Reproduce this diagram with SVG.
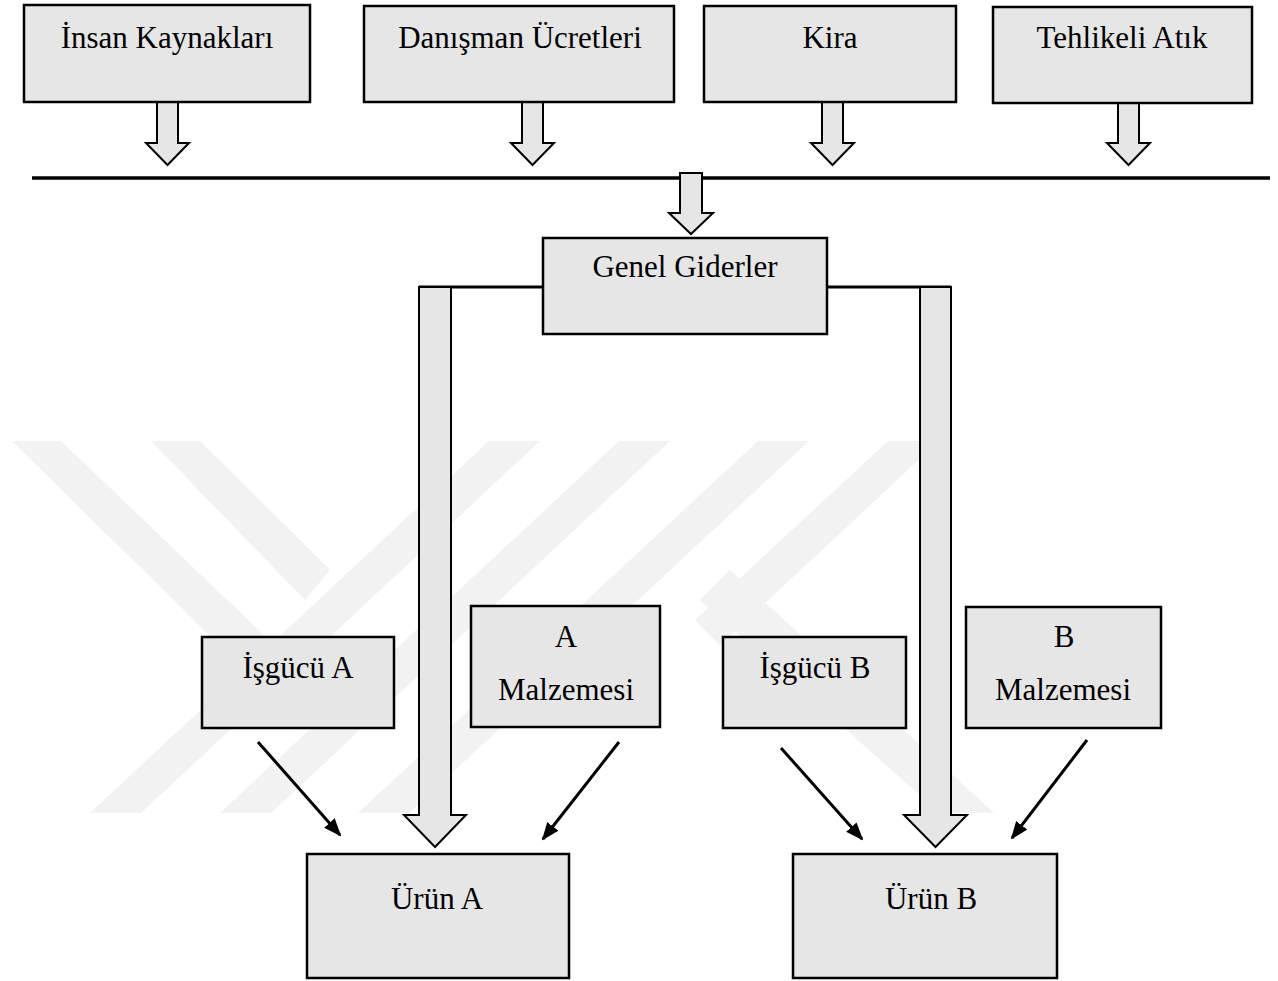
<svg xmlns="http://www.w3.org/2000/svg" width="1278" height="981" viewBox="0 0 1278 981">
<style>
.box{fill:#e6e6e6;stroke:#000;stroke-width:2.5}
.blk{fill:#e6e6e6;stroke:#000;stroke-width:2;stroke-linejoin:miter}
.lbl{font-family:"Liberation Serif","Times New Roman",serif;font-size:31px;fill:#000;text-anchor:middle}
.ln{stroke:#000;stroke-width:3.5;fill:none}
.arr{stroke:#000;stroke-width:3;fill:none;marker-end:url(#ah)}
.wm{fill:#f2f2f2}
</style>
<defs>
<marker id="ah" markerUnits="userSpaceOnUse" markerWidth="18" markerHeight="14" refX="16" refY="7" orient="auto">
<path d="M0,0 L18,7 L0,14 Z" fill="#000"/>
</marker>
</defs>
<rect width="1278" height="981" fill="#fff"/>
<g id="watermark">
<polygon class="wm" points="12,441 61,441 290,660 265,690"/>
<polygon class="wm" points="151,441 200,441 330,570 305,600"/>
<polygon class="wm" points="489,441 540,441 141,813 90,813"/>
<polygon class="wm" points="619,441 670,441 271,813 220,813"/>
<polygon class="wm" points="758,441 809,441 409,813 358,813"/>
<polygon class="wm" points="888,441 939,441 720,645 695,620"/>
<polygon class="wm" points="700,600 730,570 994,813 940,813"/>
</g>
<g id="connectors">
<line class="ln" x1="32" y1="178" x2="1270" y2="178"/>
<polygon class="blk" points="157,102 178,102 178,143 189,143 167.5,165 146,143 157,143"/>
<polygon class="blk" points="522,102 543,102 543,143 554,143 532.5,165 511,143 522,143"/>
<polygon class="blk" points="822,102 843,102 843,143 854,143 832.5,165 811,143 822,143"/>
<polygon class="blk" points="1118,102 1139,102 1139,143 1150,143 1128.5,165 1107,143 1118,143"/>
<polygon class="blk" points="680,173 702,173 702,213 713,213 691,234 669,213 680,213"/>
<line class="ln" x1="419" y1="287" x2="543" y2="287" style="stroke-width:3"/>
<line class="ln" x1="827" y1="287" x2="951" y2="287" style="stroke-width:3"/>
<polygon class="blk" points="419,287 451,287 451,815 466,815 435,847 404,815 419,815"/>
<polygon class="blk" points="920,287 951,287 951,815 967,815 935.5,847 904,815 920,815"/>
<line class="arr" x1="258" y1="742" x2="340" y2="835"/>
<line class="arr" x1="619" y1="742" x2="543" y2="839"/>
<line class="arr" x1="781" y1="748" x2="862" y2="839"/>
<line class="arr" x1="1087" y1="740" x2="1012" y2="838"/>
</g>
<g id="insan-kaynaklari"><rect class="box" x="24" y="5" width="286" height="97"/><text class="lbl" x="167" y="48">İnsan Kaynakları</text></g>
<g id="danisman-ucretleri"><rect class="box" x="364" y="6" width="310" height="96"/><text class="lbl" x="520" y="48">Danışman Ücretleri</text></g>
<g id="kira"><rect class="box" x="704" y="6" width="252" height="96"/><text class="lbl" x="830" y="48">Kira</text></g>
<g id="tehlikeli-atik"><rect class="box" x="993" y="7" width="259" height="96"/><text class="lbl" x="1122" y="48">Tehlikeli Atık</text></g>
<g id="genel-giderler"><rect class="box" x="543" y="238" width="284" height="96"/><text class="lbl" x="685" y="277">Genel Giderler</text></g>
<g id="isgucu-a"><rect class="box" x="202" y="637" width="192" height="91"/><text class="lbl" x="298" y="678">İşgücü A</text></g>
<g id="a-malzemesi"><rect class="box" x="471" y="606" width="189" height="121"/><text class="lbl" x="566" y="647">A</text><text class="lbl" x="566" y="700">Malzemesi</text></g>
<g id="isgucu-b"><rect class="box" x="723" y="637" width="183" height="91"/><text class="lbl" x="815" y="678">İşgücü B</text></g>
<g id="b-malzemesi"><rect class="box" x="966" y="607" width="195" height="121"/><text class="lbl" x="1064" y="647">B</text><text class="lbl" x="1063" y="700">Malzemesi</text></g>
<g id="urun-a"><rect class="box" x="307" y="854" width="262" height="124"/><text class="lbl" x="437" y="909">Ürün A</text></g>
<g id="urun-b"><rect class="box" x="793" y="854" width="264" height="124"/><text class="lbl" x="931" y="909">Ürün B</text></g>
</svg>
